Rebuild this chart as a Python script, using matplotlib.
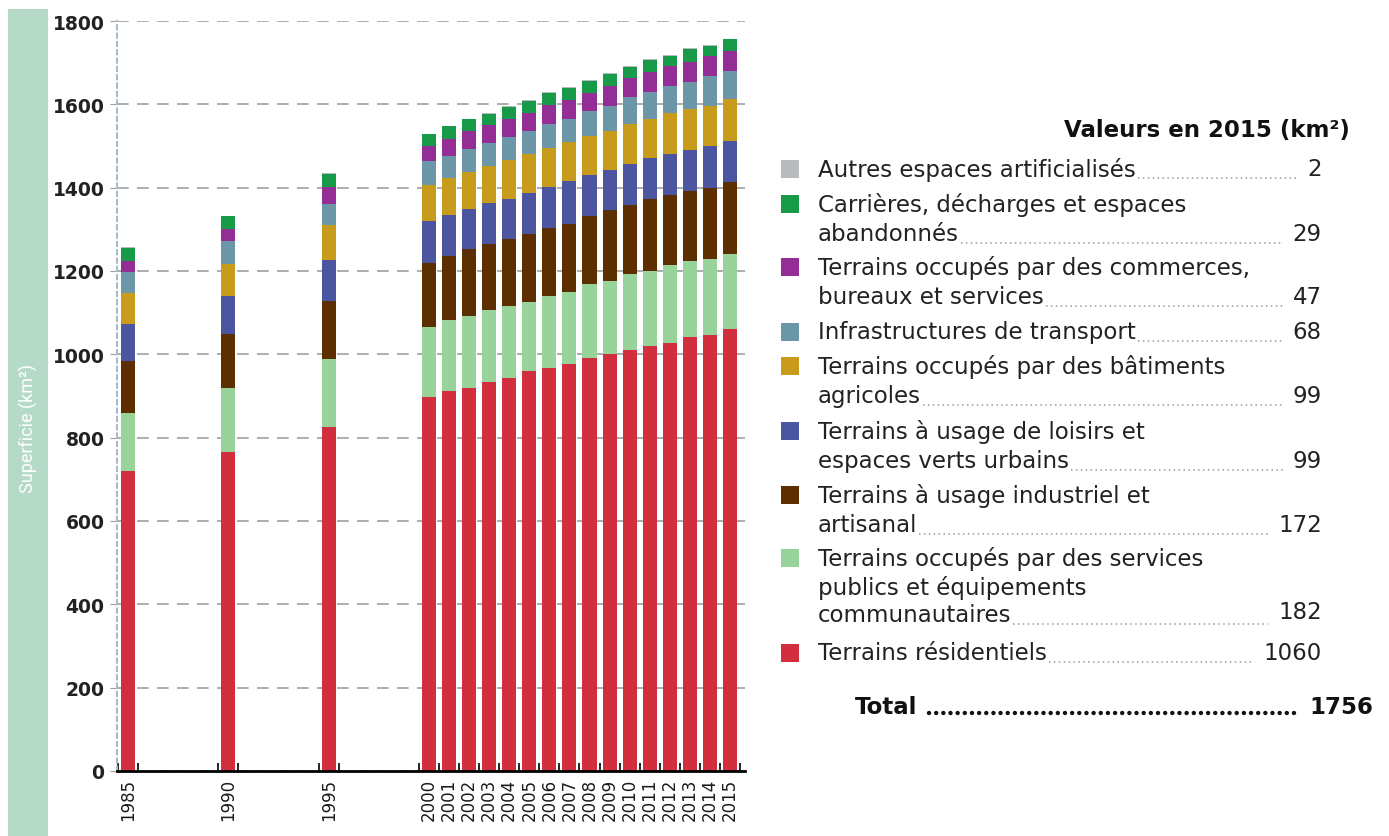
import matplotlib
matplotlib.use("Agg")
import matplotlib.pyplot as plt
from matplotlib.patches import Rectangle
from matplotlib.lines import Line2D
import numpy as np

years = [1985, 1990, 1995, 2000, 2001, 2002, 2003, 2004, 2005, 2006, 2007,
         2008, 2009, 2010, 2011, 2012, 2013, 2014, 2015]

residentiels = [720, 765, 826, 897, 911, 920, 934, 944, 959, 968, 977, 992, 1000, 1010, 1019, 1028, 1041, 1047, 1060]
services_publics = [140, 155, 163, 169, 172, 173, 172, 172, 166, 173, 172, 176, 176, 182, 181, 186, 183, 183, 182]
industriel = [123, 130, 139, 153, 154, 159, 160, 160, 165, 163, 165, 163, 170, 167, 172, 169, 169, 170, 172]
loisirs = [89, 89, 99, 100, 98, 98, 97, 96, 97, 97, 102, 99, 97, 99, 99, 98, 97, 99, 99]
agricoles = [75, 79, 83, 88, 89, 88, 89, 95, 94, 95, 93, 93, 94, 94, 94, 98, 100, 98, 99]
transport = [50, 53, 51, 56, 52, 56, 55, 55, 56, 56, 56, 60, 60, 65, 64, 64, 64, 70, 68]
commerces = [28, 31, 40, 37, 41, 42, 43, 42, 43, 46, 46, 44, 46, 47, 48, 48, 47, 48, 47]
carrieres = [30, 29, 32, 28, 30, 28, 27, 30, 29, 29, 28, 29, 30, 25, 29, 26, 32, 26, 29]
autres = [2, 2, 2, 2, 2, 2, 2, 2, 2, 2, 2, 2, 2, 2, 2, 2, 2, 2, 2]

series = [residentiels, services_publics, industriel, loisirs, agricoles,
          transport, commerces, carrieres, autres]
colors = ["#d22e3e", "#97d39a", "#5c2e00", "#4b55a0", "#c99b1c",
          "#6b97a8", "#952d97", "#179b48", "#b8babe"]

legend_labels = [
    ["Autres espaces artificialisés"],
    ["Carrières, décharges et espaces", "abandonnés"],
    ["Terrains occupés par des commerces,", "bureaux et services"],
    ["Infrastructures de transport"],
    ["Terrains occupés par des bâtiments", "agricoles"],
    ["Terrains à usage de loisirs et", "espaces verts urbains"],
    ["Terrains à usage industriel et", "artisanal"],
    ["Terrains occupés par des services", "publics et équipements", "communautaires"],
    ["Terrains résidentiels"],
]
legend_values = ["2", "29", "47", "68", "99", "99", "172", "182", "1060"]
legend_colors = colors[::-1]
total_label = "Total"
total_value = "1756"
legend_title = "Valeurs en 2015 (km²)"
ylabel = "Superficie (km²)"

W, H = 1389, 837
fig = plt.figure(figsize=(W / 100, H / 100), dpi=100)
fig.patch.set_facecolor("white")

def fx(x):
    return x / W

def fy(y):
    return 1 - y / H

# left green band
fig.add_artist(Rectangle((fx(8), 0), fx(48) - fx(8), fy(10), transform=fig.transFigure,
                         facecolor="#b5dbc8", edgecolor="none"))
fig.text(fx(28), fy(429), ylabel, rotation=90, ha="center", va="center",
         color="white", fontsize=13, family="Roboto", fontweight="normal")

ax = fig.add_axes([fx(117), fy(772), fx(745) - fx(117), fy(22) - fy(772)])
bottom = np.zeros(len(years))
for vals, c in zip(series, colors):
    ax.bar(years, vals, width=0.7, bottom=bottom, color=c, linewidth=0, zorder=3)
    bottom += np.array(vals)

ax.set_xlim(1984.45, 2015.75)
ax.set_ylim(0, 1800)
ax.set_yticks(np.arange(0, 1801, 200))
ax.yaxis.grid(True, linestyle=(0, (7, 5)), color="#a0a0a0", linewidth=1.2, zorder=0)
ax.tick_params(axis="y", length=5, color="#a0a0a0", labelsize=13.5, labelcolor="#222222", pad=4)
for lab in ax.get_yticklabels():
    lab.set_fontweight("bold")

ax.set_xticks(years)
ax.set_xticklabels([str(y) for y in years], rotation=90, fontsize=12, color="#1a1a1a")
ax.tick_params(axis="x", length=0, pad=5)
edges = sorted(set([y - 0.5 for y in years] + [y + 0.5 for y in years]))
ax.set_xticks(edges, minor=True)
ax.tick_params(axis="x", which="minor", direction="in", length=6, width=1.2, color="black")

for s in ["top", "right"]:
    ax.spines[s].set_visible(False)
ax.spines["bottom"].set_linewidth(2)
ax.spines["bottom"].set_color("black")
ax.spines["bottom"].set_zorder(5)
ax.spines["left"].set_linestyle((0, (2, 2)))
ax.spines["left"].set_color("#a9bccb")
ax.spines["left"].set_linewidth(1.5)

# legend
fig.text(fx(1350), fy(130), legend_title, ha="right", va="center", fontsize=16.5,
         fontweight="bold", color="#111111")

starts = [170, 205, 268, 333, 367, 432, 496, 559, 654]
line_gap = 29.5
text_x = 818
num_right = 1322
fs = 16.5
fig.canvas.draw()
renderer = fig.canvas.get_renderer()
for lines, val, col, y0 in zip(legend_labels, legend_values, legend_colors, starts):
    fig.add_artist(Rectangle((fx(781), fy(y0 + 9)), fx(18), 18 / H, transform=fig.transFigure,
                             facecolor=col, edgecolor="none"))
    last = None
    for i, ln in enumerate(lines):
        yy = y0 + i * line_gap
        if i == 2:
            yy = y0 + 57
        last = fig.text(fx(text_x), fy(yy), ln, ha="left", va="center", fontsize=fs, color="#222222")
    ylast = y0 + (len(lines) - 1) * line_gap if len(lines) < 3 else y0 + 57
    ynum = ylast if len(lines) < 3 else ylast - 3
    num = fig.text(fx(num_right), fy(ynum), val, ha="right", va="center", fontsize=fs, color="#222222")
    bb = last.get_window_extent(renderer)
    nb = num.get_window_extent(renderer)
    x0 = bb.x1 + 2
    x1 = nb.x0 - 10
    yl = fy(ylast + 9)
    fig.add_artist(Line2D([x0 / W, x1 / W], [yl, yl], transform=fig.transFigure,
                          color="#9a9a9a", linewidth=1.1, linestyle=(0, (1, 2.2))))

t = fig.text(fx(855), fy(707), total_label, ha="left", va="center", fontsize=16.5,
             fontweight="bold", color="#111111")
tv = fig.text(fx(1373), fy(707), total_value, ha="right", va="center", fontsize=16.5,
              fontweight="bold", color="#111111")
fig.canvas.draw()
bb = t.get_window_extent(renderer)
nb = tv.get_window_extent(renderer)
ln = Line2D([(bb.x1 + 12) / W, (nb.x0 - 9) / W], [fy(714), fy(714)], transform=fig.transFigure,
            color="#111111", linewidth=3.2, linestyle=(0, (0.01, 1.6)), dash_capstyle="round")
fig.add_artist(ln)

fig.savefig("out.png", dpi=100)
